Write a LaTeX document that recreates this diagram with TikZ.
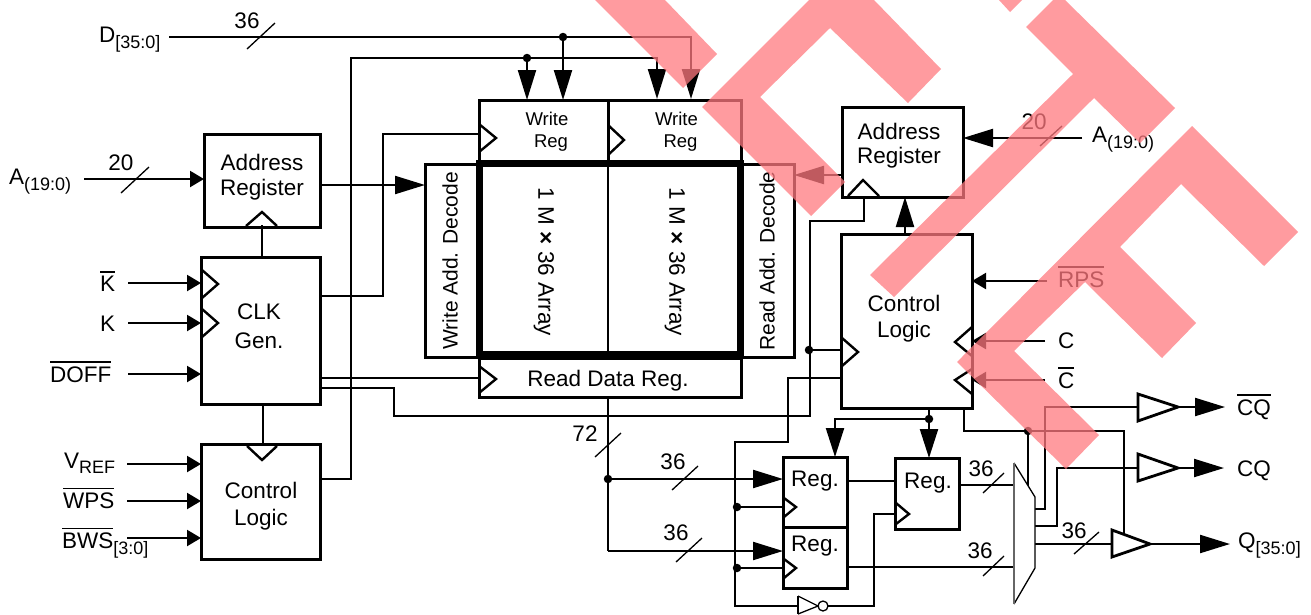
\documentclass[tikz,border=0pt]{standalone}
\usepackage{fontspec}
\setmainfont{Liberation Sans}
\usetikzlibrary{arrows.meta}
\definecolor{markred}{RGB}{255,121,127}
\newcommand{\subl}[2]{#1\raisebox{-6pt}{\fontsize{18}{18}\selectfont #2}}
\newcommand{\barl}[1]{\leavevmode\vbox{\hrule height 1.8pt \kern 3pt \hbox{#1}}}
\tikzset{
    box/.style={draw,line width=3pt,inner sep=0pt,outer sep=0pt},
    txt/.style={font=\fontsize{22.5}{#1}\selectfont,align=center,inner sep=0pt},
    txt/.default=25,
    lbl/.style={font=\fontsize{22.5}{22.5}\selectfont,inner sep=0pt,anchor=base west},
    wire/.style={line width=2.2pt},
    tick/.style={line width=1.3pt},
    clk/.style={line width=2.4pt},
    buf/.style={line width=2.8pt},
    bigarr/.style={wire,-{Triangle[length=30pt,width=18pt]}},
    smallarr/.style={wire,-{Triangle[length=14pt,width=16pt]}},
    dot/.style={circle,fill=black,inner sep=0pt,minimum size=8.5pt},
    redmark/.style={fill=markred,fill opacity=0.75,draw=none}
}
\begin{document}
\begin{tikzpicture}[x=1pt,y=-1pt]
    \useasboundingbox (0,0) rectangle (1311,614);

    \node[box,minimum width=116pt,minimum height=93pt] (addrL) at (262,180.5) {};
    \node[box,minimum width=119pt,minimum height=147pt] (clkgen) at (260.5,330.5) {};
    \node[box,minimum width=119pt,minimum height=115pt] (ctlL) at (260.5,501.5) {};
    \node[box,minimum width=129pt,minimum height=63pt] (wreg1) at (543.5,131.5) {};
    \node[box,minimum width=133pt,minimum height=63pt] (wreg2) at (674.5,131.5) {};
    \node[box,minimum width=54pt,minimum height=193pt] (wdec) at (452,260.5) {};
    \node[box,minimum width=53pt,minimum height=193pt] (rdec) at (767.5,260.5) {};
    \node[box,minimum width=262pt,minimum height=39pt] (rdreg) at (610,377.5) {};
    \node[box,line width=7pt,minimum width=261pt,minimum height=191pt] (array) at (610,258.5) {};
    \draw[wire,line width=2.6pt] (array.north -| wreg1.east) -- (array.south -| wreg1.east);
    \node[box,minimum width=121pt,minimum height=90pt] (addrR) at (902.5,152) {};
    \node[box,minimum width=131pt,minimum height=174pt] (ctlR) at (906.5,321) {};
    \node[box,minimum width=64pt,minimum height=70pt] (reg1) at (815,492) {};
    \node[box,minimum width=64pt,minimum height=61pt] (reg2) at (815,557.5) {};
    \node[box,minimum width=64pt,minimum height=71pt] (reg3) at (927,493.5) {};

    \node[txt] (addrLt) at (262,177.5) {Address\\Register};
    \node[txt=29] (clkt) at (259,326.5) {CLK\\Gen.};
    \node[txt=27] (ctlLt) at (261,506.5) {Control\\Logic};
    \node[txt=24] (addrRt) at (899,145.5) {Address\\Register};
    \node[txt=26] (ctlRt) at (904,319) {Control\\Logic};
    \node[txt,font=\fontsize{18.5}{22}\selectfont] (wreg1t) at (547,131.5) {Write\\\hspace*{8pt}Reg};
    \node[txt,font=\fontsize{18.5}{22}\selectfont] (wreg2t) at (676.5,131.5) {Write\\\hspace*{8pt}Reg};
    \node[txt,font=\fontsize{21}{21}\selectfont,rotate=90] (wdect) at (450,261) {Write Add. Decode};
    \node[txt,font=\fontsize{21}{21}\selectfont,rotate=90] (rdect) at (767,261) {Read Add. Decode};
    \node[txt,rotate=-90] (arr1t) at (544,262) {1 M \textbf{×} 36 Array};
    \node[txt,rotate=-90] (arr2t) at (675,262) {1 M \textbf{×} 36 Array};
    \node[txt] (rdregt) at (608,380.5) {Read Data Reg.};
    \node[txt] (reg1t) at (815,481) {Reg.};
    \node[txt] (reg2t) at (815,546) {Reg.};
    \node[txt] (reg3t) at (928,483) {Reg.};

    \draw[clk] (246,226) -- (262,212) -- (277,226);
    \draw[clk] (247,446) -- (262,460) -- (277,446);
    \draw[clk] (202,270) -- (218,284) -- (202,298);
    \draw[clk] (202,309) -- (218,323) -- (202,337);
    \draw[clk] (479,124) -- (496,138) -- (479,152);
    \draw[clk] (608,125) -- (624,140) -- (608,155);
    \draw[clk] (479,366) -- (496,379) -- (479,393);
    \draw[clk] (848,196) -- (863,180) -- (879,196);
    \draw[clk] (842,338) -- (858,352) -- (842,366);
    \draw[clk] (972,327) -- (955,342) -- (972,356);
    \draw[clk] (972,369) -- (955,380) -- (972,394);
    \draw[clk] (784,498) -- (796,507) -- (784,517);
    \draw[clk] (784,559) -- (796,568) -- (784,578);
    \draw[clk] (896,503) -- (909,514) -- (896,524);

    \node[dot] (dDot) at (563,37) {};
    \node[dot] (busDot) at (527,58) {};
    \node[dot] (clkDot) at (809,350) {};
    \node[dot] (dataDot) at (608,479) {};
    \node[dot] (reg1Dot) at (737,507) {};
    \node[dot] (reg2Dot) at (737,568) {};
    \node[dot] (ctlDot) at (929,419) {};
    \node[dot] (oeDot) at (1028,431) {};

    \coordinate (dIn) at (169,37);
    \coordinate (dEnd) at (691,99);
    \coordinate (busOut) at (320,479);
    \coordinate (busUp) at (351,58);
    \coordinate (busEnd) at (657,99);
    \coordinate (aLIn) at (84,179);
    \coordinate (addrOut) at (320,185);
    \coordinate (kbarIn) at (128,283);
    \coordinate (kIn) at (128,323);
    \coordinate (doffIn) at (128,374);
    \coordinate (vrefIn) at (127,464);
    \coordinate (wpsIn) at (127,501);
    \coordinate (bwsIn) at (127,538);
    \coordinate (clkA) at (320,296);
    \coordinate (clkAup) at (383,134);
    \coordinate (clkAend) at (480,134);
    \coordinate (clkB) at (320,378);
    \coordinate (clkC) at (320,388);
    \coordinate (clkCa) at (394,416);
    \coordinate (clkCb) at (810,221);
    \coordinate (clkCc) at (864,197);
    \coordinate (ctlRw) at (841,378);
    \coordinate (ctlRa) at (788,442);
    \coordinate (ctlRb) at (735,606);
    \coordinate (invIn) at (798,606);
    \coordinate (invOut) at (828,606);
    \coordinate (invUp) at (874,514);
    \coordinate (rdOut) at (608,397);
    \coordinate (rdCorner) at (608,551);
    \coordinate (addrRo) at (842,175);
    \coordinate (ctlRup) at (905,234);
    \coordinate (aRIn) at (1082,138);
    \coordinate (rpsIn) at (1047,281);
    \coordinate (cIn) at (1045,341);
    \coordinate (cbarIn) at (1045,380);
    \coordinate (ctlRs) at (929,408);
    \coordinate (reg1Top) at (835,419);
    \coordinate (oeOut) at (964,408);
    \coordinate (oeRight) at (1124,431);
    \coordinate (oeEnd) at (1124,535);
    \coordinate (muxOe) at (1028,487);
    \coordinate (mux1) at (1014,485);
    \coordinate (mux2) at (1014,567);
    \coordinate (muxQ) at (1035,544);
    \coordinate (muxCqb) at (1035,509);
    \coordinate (muxCq) at (1035,526);
    \coordinate (bufA) at (1138,407);
    \coordinate (bufB) at (1138,468);
    \coordinate (bufC) at (1112,544);
    \coordinate (cqbOut) at (1178,407);
    \coordinate (cqOut) at (1178,468);
    \coordinate (qOut) at (1150,544);
    \coordinate (cqbEnd) at (1225,407);
    \coordinate (cqEnd) at (1224,468);
    \coordinate (qEnd) at (1230,544);

    \draw[bigarr] (dIn) -| (dEnd);
    \draw[bigarr] (dDot) -- (dDot |- wreg1.north);
    \draw[bigarr] (busOut) -| (busUp) -| (busEnd);
    \draw[bigarr] (busDot) -- (busDot |- wreg1.north);
    \draw[smallarr] (aLIn) -- (aLIn -| addrL.west);
    \draw[bigarr] (addrOut) -- (addrOut -| wdec.west);
    \draw[wire] (clkgen.north -| addrLt) -- (262,225);
    \draw[wire] (263,404) -- (263,444);
    \draw[smallarr] (kbarIn) -- (kbarIn -| clkgen.west);
    \draw[smallarr] (kIn) -- (kIn -| clkgen.west);
    \draw[smallarr] (doffIn) -- (doffIn -| clkgen.west);
    \draw[smallarr] (vrefIn) -- (vrefIn -| ctlL.west);
    \draw[smallarr] (wpsIn) -- (wpsIn -| ctlL.west);
    \draw[smallarr] (bwsIn) -- (bwsIn -| ctlL.west);
    \draw[wire] (clkA) -| (clkAup) -- (clkAend);
    \draw[wire] (clkB) -- (clkB -| rdreg.west);
    \draw[wire] (clkC) -| (clkCa) -| (clkCb) -| (clkCc);
    \draw[wire] (clkDot) -- (clkDot -| ctlR.west);
    \draw[wire] (ctlRw) -| (ctlRa) -| (ctlRb) -- (invIn);
    \draw[wire] (invOut) -| (invUp) -- (invUp -| reg3.west);
    \draw[wire] (reg1Dot) -- (reg1Dot -| reg1.west);
    \draw[wire] (reg2Dot) -- (reg2Dot -| reg2.west);
    \draw[wire,line width=2.6pt] (rdOut) -- (rdCorner);
    \draw[bigarr] (dataDot) -- (dataDot -| reg1.west);
    \draw[bigarr] (rdCorner) -- (rdCorner -| reg2.west);
    \draw[wire] (reg1.east |- reg1t) -- (reg1t -| reg3.west);
    \draw[wire] (reg3.east |- mux1) -- (mux1);
    \draw[wire] (reg2.east |- mux2) -- (mux2);
    \draw[bigarr] (addrRo) -- (addrRo -| rdec.east);
    \draw[bigarr] (ctlRup) -- (ctlRup |- addrR.south);
    \draw[bigarr] (aRIn) -- (aRIn -| addrR.east);
    \draw[smallarr] (rpsIn) -- (rpsIn -| ctlR.east);
    \draw[smallarr] (cIn) -- (cIn -| ctlR.east);
    \draw[smallarr] (cbarIn) -- (cbarIn -| ctlR.east);
    \draw[wire] (ctlRs) -- (ctlDot);
    \draw[wire,-{Triangle[length=29pt,width=18pt]}] (ctlDot) -| (reg1Top) -- (reg1Top |- reg1.north);
    \draw[wire,-{Triangle[length=29pt,width=18pt]}] (ctlDot) -- (ctlDot |- reg3.north);
    \draw[wire] (oeOut) |- (oeRight) -- (oeEnd);
    \draw[wire] (oeDot) -- (muxOe);
    \draw[wire] (muxQ) -- (bufC);
    \draw[wire] (muxCqb) -| (1045,407) -- (bufA);
    \draw[wire] (muxCq) -| (1057,468) -- (bufB);
    \draw[bigarr] (cqbOut) -- (cqbEnd);
    \draw[bigarr] (cqOut) -- (cqEnd);
    \draw[bigarr] (qOut) -- (qEnd);

    \draw[tick,fill=white] (1014,463) -- (1035,497) -- (1035,568) -- (1014,604);
    \draw[line width=1.6pt,black!60] (1014,463) -- (1014,604);
    \draw[tick] (798,596) -- (818,606) -- (798,614);
    \draw[tick] (798,596) -- (798,614);
    \draw[tick] (823,606) circle (5pt);

    \draw[buf] (1138,394) -- (1178,407) -- (1138,421) -- cycle;
    \draw[buf] (1138,454) -- (1178,468) -- (1138,481) -- cycle;
    \draw[buf] (1112,530) -- (1150,544) -- (1112,557) -- cycle;

    \draw[tick] (247,49) -- (275,23);
    \draw[tick] (121,193) -- (149,167);
    \draw[tick] (595,457) -- (621,433);
    \draw[tick] (672,490) -- (698,466);
    \draw[tick] (676,562) -- (702,538);
    \draw[tick] (983,493) -- (1004,473);
    \draw[tick] (983,576) -- (1004,556);
    \draw[tick] (1074,554) -- (1099,532);
    \draw[tick] (1040,146) -- (1062,126);

    \node[txt] (n36a) at (247,21) {36};
    \node[txt] (n20a) at (121,163) {20};
    \node[txt] (n72) at (585,434) {72};
    \node[txt] (n36b) at (673,462) {36};
    \node[txt] (n36c) at (676,533) {36};
    \node[txt] (n36d) at (981,469) {36};
    \node[txt] (n36e) at (980,551) {36};
    \node[txt] (n36f) at (1074,531) {36};
    \node[txt] (n20b) at (1034,122) {20};

    \node[lbl] (dLab) at (99,42) {\subl{D}{[35:0]}};
    \node[lbl] (aLab) at (9,184) {\subl{A}{(19:0)}};
    \node[lbl] (kbarLab) at (100,291) {\barl{K}};
    \node[lbl] (kLab) at (100,331) {K};
    \node[lbl] (doffLab) at (50,382) {\barl{DOFF}};
    \node[lbl] (vrefLab) at (64,468) {V\raisebox{-5pt}{\fontsize{18}{18}\selectfont REF}};
    \node[lbl] (wpsLab) at (63,508) {\barl{WPS}};
    \node[lbl] (bwsLab) at (62,548) {\barl{BWS}\raisebox{-6pt}{\fontsize{18}{18}\selectfont [3:0]}};
    \node[lbl] (aRLab) at (1092,142) {\subl{A}{(19:0)}};
    \node[lbl] (rpsLab) at (1058,287) {\barl{RPS}};
    \node[lbl] (cLab) at (1058,348) {C};
    \node[lbl] (cbarLab) at (1058,388) {\barl{C}};
    \node[lbl] (cqbLab) at (1237,415) {\barl{CQ}};
    \node[lbl] (cqLab) at (1237,476) {CQ};
    \node[lbl] (qLab) at (1238,548) {\subl{Q}{[35:0]}};

    \path[redmark] (595,0) -- (665,0) -- (717,54) -- (683,88) -- cycle;
    \path[redmark] (702,107) -- (809,0) -- (874,0) -- (941,69) -- (908,103) -- (830,28) -- (760,97) -- (845,182) -- (811,216) -- cycle;
    \path[redmark] (999,0) -- (1022,0) -- (1010,12) -- cycle;
    \path[redmark] (1053,0) -- (1065,0) -- (1175,108) -- (1140,143) -- (1094,98) -- (894,297) -- (870,275) -- (1073,74) -- (1026,27) -- cycle;
    \path[redmark] (957,362) -- (1192,126) -- (1298,232) -- (1264,266) -- (1181,184) -- (1120,247) -- (1196,323) -- (1162,358) -- (1085,282) -- (1014,351) -- (1099,435) -- (1066,469) -- cycle;
\end{tikzpicture}
\end{document}
